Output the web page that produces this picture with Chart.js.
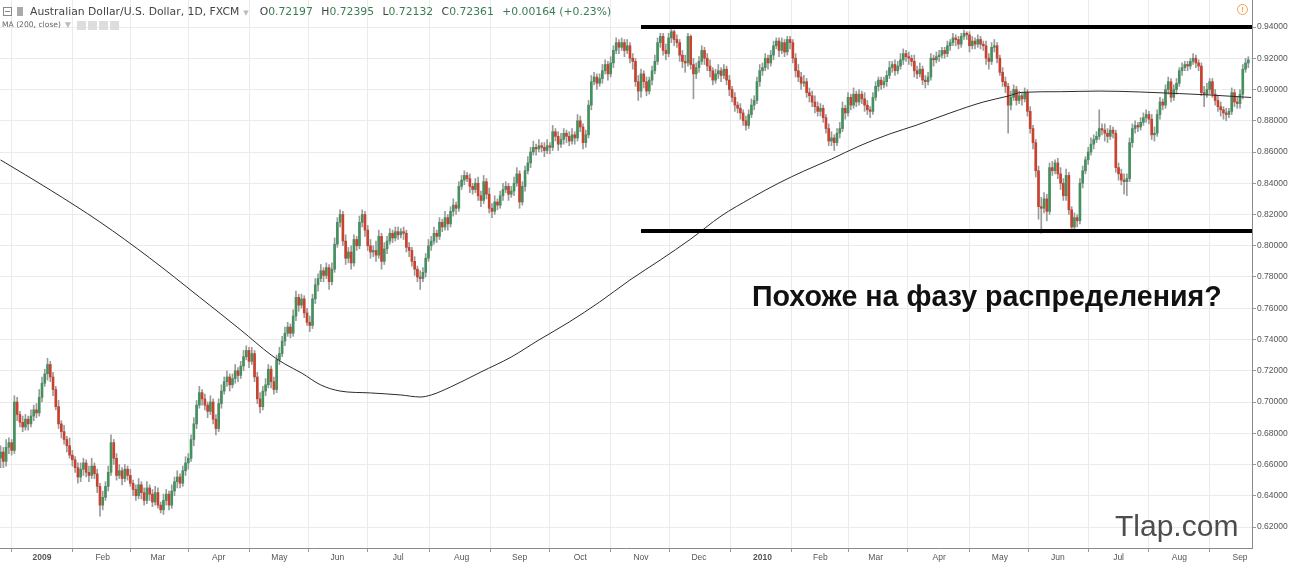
<!DOCTYPE html>
<html>
<head>
<meta charset="utf-8">
<title>AUD/USD 1D</title>
<script src="https://cdn.jsdelivr.net/npm/chart.js@4.4.1/dist/chart.umd.min.js"></script>
<style>
  html, body { margin: 0; padding: 0; background: #fff; }
  #wrap { position: relative; width: 1290px; height: 566px; overflow: hidden; font-family: "Liberation Sans", Arial, sans-serif; }
  #chart { position: absolute; left: 0; top: 0; }
  .hdr { position: absolute; left: 30px; top: 5px; font: 10.8px "DejaVu Sans", Verdana, sans-serif; color: #444; white-space: nowrap; }
  .hdr .caret { color: #bbb; font-size: 7px; margin: 0 11px 0 4px; }
  .hdr .ohlc b { font-weight: normal; color: #3a7d52; margin-right: 5px; }
  .sub { position: absolute; left: 2px; top: 20px; font: 7.6px "DejaVu Sans", Verdana, sans-serif; color: #666; white-space: nowrap; }
  .sub .caret { color: #bbb; margin-left: 4px; }
  .box { position: absolute; top: 21px; width: 9px; height: 9px; background: #ddd; }
  .ico-min { position: absolute; left: 3px; top: 7px; width: 7px; height: 7px; border: 1px solid #888; }
  .ico-min:after { content: ""; position: absolute; left: 1px; top: 3px; width: 5px; height: 1px; background: #888; }
  .ico-flag { position: absolute; left: 17px; top: 7px; width: 6px; height: 9px; background: #aaa; }
  .warn { position: absolute; left: 1237px; top: 4px; width: 9px; height: 9px; border: 1.5px solid #f5a04a; border-radius: 50%;
          color: #f5a04a; font: bold 8px "Liberation Sans", Arial, sans-serif; text-align: center; line-height: 9px; }
  .note { position: absolute; left: 752px; top: 280px; font: bold 28.6px "Liberation Sans", Arial, sans-serif; color: #111; white-space: nowrap; }
  .mark { position: absolute; left: 1115px; top: 509px; font: 30px "Liberation Sans", Arial, sans-serif; color: #4d4d4d; white-space: nowrap; }
</style>
</head>
<body>
<div id="wrap">
  <canvas id="chart" width="1290" height="566"></canvas>
  <div class="ico-min"></div><div class="ico-flag"></div>
  <div class="hdr">Australian Dollar/U.S. Dollar, 1D, FXCM<span class="caret">▼</span><span class="ohlc">O<b>0.72197</b> H<b>0.72395</b> L<b>0.72132</b> C<b>0.72361</b> <b>+0.00164 (+0.23%)</b></span></div>
  <div class="sub">MA (200, close)<span class="caret">▼</span></div>
  <div class="box" style="left:77px"></div><div class="box" style="left:88px"></div>
  <div class="box" style="left:99px"></div><div class="box" style="left:110px"></div>
  <div class="warn">!</div>
  <div class="note">Похоже на фазу распределения?</div>
  <div class="mark">Tlap.com</div>
</div>
<script>
// Daily candles, index = trading day counted from 2 Jan 2009 (first candle is mid Dec 2008)
const firstDay = -15;

const opens = [
  0.664,0.668,0.662,0.671,0.674,0.669,0.700,0.692,0.687,0.684,0.689,0.686,0.691,0.695,0.693, // Dec 08
  0.703,0.712,0.718,0.724,0.716,0.708,0.697,0.686,0.681,0.676,0.672,0.666,0.663,0.658,0.652,0.657,0.661,0.655,0.653,0.659,0.654,0.646, // Jan 09
  0.634,0.639,0.646,0.655,0.674,0.664,0.653,0.656,0.651,0.657,0.653,0.648,0.644,0.640,0.647,0.642,0.637,0.645,0.641,0.636, // Feb
  0.642,0.634,0.631,0.637,0.641,0.634,0.643,0.649,0.652,0.648,0.656,0.661,0.664,0.676,0.686,0.698,0.706,0.702,0.698,0.694,0.700,0.689, // Mar
  0.683,0.699,0.707,0.713,0.716,0.711,0.715,0.720,0.717,0.723,0.729,0.733,0.726,0.731,0.716,0.702,0.697,0.707,0.711,0.721,0.713,0.708, // Apr
  0.727,0.731,0.739,0.744,0.748,0.744,0.755,0.767,0.762,0.766,0.757,0.751,0.749,0.766,0.775,0.779,0.784,0.781,0.786,0.777,0.785, // May
  0.801,0.815,0.820,0.803,0.792,0.796,0.789,0.804,0.800,0.815,0.820,0.810,0.800,0.796,0.797,0.794,0.806,0.790,0.798,0.803,0.808,0.805, // Jun
  0.809,0.807,0.809,0.808,0.799,0.797,0.790,0.785,0.780,0.779,0.783,0.792,0.800,0.803,0.808,0.806,0.815,0.812,0.818,0.814,0.822,0.826,0.824, // Jul
  0.838,0.842,0.845,0.843,0.838,0.836,0.840,0.832,0.829,0.841,0.833,0.824,0.822,0.828,0.826,0.832,0.836,0.838,0.833,0.835,0.840, // Aug
  0.846,0.828,0.838,0.848,0.853,0.860,0.863,0.862,0.864,0.863,0.861,0.864,0.863,0.873,0.870,0.865,0.868,0.872,0.870,0.867,0.871,0.869, // Sep
  0.880,0.876,0.866,0.871,0.890,0.905,0.908,0.904,0.907,0.912,0.916,0.910,0.917,0.925,0.930,0.927,0.930,0.925,0.928,0.920,0.918,0.905, // Oct
  0.899,0.910,0.905,0.899,0.906,0.912,0.918,0.930,0.934,0.925,0.923,0.933,0.937,0.932,0.930,0.922,0.918,0.917,0.934,0.916,0.910, // Nov
  0.914,0.918,0.925,0.920,0.915,0.912,0.906,0.910,0.912,0.909,0.913,0.906,0.900,0.895,0.890,0.888,0.885,0.880,0.877,0.884,0.890,0.893,0.905, // Dec
  0.912,0.914,0.920,0.917,0.922,0.928,0.931,0.925,0.930,0.924,0.932,0.930,0.920,0.912,0.908,0.904,0.905,0.898,0.896,0.892,0.889, // Jan 10
  0.886,0.888,0.882,0.875,0.867,0.869,0.866,0.872,0.875,0.888,0.885,0.895,0.890,0.897,0.892,0.897,0.894,0.890,0.887,0.886, // Feb
  0.895,0.902,0.906,0.903,0.905,0.909,0.914,0.916,0.912,0.915,0.919,0.923,0.921,0.920,0.918,0.912,0.910,0.913,0.906,0.905,0.908,0.920,0.919, // Mar
  0.921,0.922,0.925,0.923,0.928,0.930,0.933,0.932,0.929,0.934,0.936,0.935,0.928,0.931,0.929,0.932,0.929,0.928,0.920,0.918,0.927,0.928, // Apr
  0.920,0.911,0.905,0.902,0.890,0.895,0.900,0.893,0.896,0.894,0.898,0.886,0.875,0.866,0.848,0.825,0.824,0.830,0.822,0.850,0.848, // May
  0.853,0.846,0.840,0.832,0.845,0.823,0.812,0.818,0.816,0.840,0.848,0.855,0.860,0.865,0.868,0.870,0.875,0.874,0.872,0.870,0.874,0.872, // Jun
  0.850,0.846,0.842,0.841,0.843,0.866,0.875,0.877,0.876,0.879,0.882,0.884,0.881,0.871,0.872,0.884,0.892,0.890,0.900,0.905,0.895,0.900, // Jul
  0.904,0.912,0.914,0.916,0.915,0.918,0.920,0.917,0.915,0.898,0.897,0.900,0.905,0.897,0.893,0.889,0.887,0.885,0.884,0.886,0.898,0.892, // Aug
  0.891,0.897,0.913,0.917 // Sep
];
const highs = [
  0.672,0.671,0.676,0.677,0.676,0.704,0.703,0.694,0.691,0.692,0.691,0.695,0.698,0.699,0.708,
  0.716,0.721,0.728,0.726,0.719,0.710,0.701,0.688,0.685,0.678,0.677,0.669,0.665,0.661,0.661,0.664,0.663,0.659,0.664,0.661,0.657,0.648,
  0.643,0.649,0.659,0.679,0.676,0.667,0.660,0.658,0.660,0.659,0.657,0.650,0.647,0.651,0.649,0.645,0.649,0.647,0.644,0.646,
  0.645,0.636,0.641,0.644,0.643,0.647,0.652,0.656,0.654,0.659,0.665,0.667,0.679,0.690,0.701,0.710,0.708,0.705,0.700,0.704,0.702,0.692,
  0.702,0.711,0.716,0.720,0.718,0.718,0.724,0.722,0.726,0.733,0.736,0.735,0.735,0.733,0.719,0.706,0.710,0.715,0.724,0.723,0.716,0.730,
  0.735,0.742,0.748,0.751,0.750,0.759,0.771,0.769,0.769,0.768,0.760,0.755,0.769,0.779,0.782,0.788,0.786,0.789,0.788,0.789,0.805,
  0.818,0.823,0.822,0.807,0.799,0.800,0.807,0.806,0.819,0.823,0.822,0.813,0.804,0.800,0.803,0.810,0.808,0.802,0.806,0.811,0.810,0.812,
  0.812,0.811,0.812,0.810,0.802,0.799,0.793,0.787,0.784,0.786,0.795,0.804,0.806,0.812,0.810,0.818,0.817,0.822,0.820,0.825,0.830,0.828,0.841,
  0.845,0.848,0.847,0.846,0.840,0.843,0.844,0.835,0.845,0.843,0.837,0.827,0.832,0.830,0.835,0.840,0.841,0.840,0.838,0.844,0.850,
  0.848,0.841,0.851,0.857,0.863,0.867,0.865,0.868,0.866,0.866,0.868,0.866,0.877,0.875,0.873,0.872,0.875,0.874,0.873,0.875,0.873,0.884,
  0.883,0.878,0.874,0.893,0.909,0.911,0.910,0.910,0.916,0.919,0.918,0.921,0.928,0.933,0.932,0.933,0.932,0.932,0.930,0.923,0.920,0.909,
  0.913,0.912,0.908,0.908,0.915,0.922,0.933,0.936,0.936,0.929,0.936,0.939,0.938,0.935,0.932,0.925,0.922,0.936,0.935,0.920,0.917,
  0.921,0.928,0.927,0.923,0.919,0.914,0.913,0.916,0.914,0.916,0.915,0.909,0.902,0.898,0.892,0.891,0.887,0.883,0.887,0.894,0.896,0.908,0.916,
  0.917,0.923,0.922,0.925,0.931,0.933,0.933,0.933,0.932,0.934,0.934,0.932,0.923,0.916,0.911,0.909,0.907,0.901,0.899,0.896,0.892,
  0.891,0.890,0.884,0.878,0.873,0.871,0.875,0.879,0.892,0.890,0.898,0.897,0.901,0.899,0.900,0.899,0.898,0.893,0.889,0.898,
  0.905,0.908,0.908,0.908,0.912,0.918,0.918,0.919,0.918,0.923,0.926,0.925,0.924,0.922,0.922,0.915,0.917,0.915,0.909,0.911,0.923,0.922,0.924,
  0.925,0.927,0.927,0.931,0.932,0.936,0.935,0.934,0.936,0.938,0.937,0.937,0.934,0.933,0.935,0.934,0.931,0.931,0.923,0.930,0.932,0.930,
  0.922,0.914,0.908,0.904,0.899,0.903,0.902,0.899,0.898,0.901,0.900,0.889,0.877,0.868,0.851,0.831,0.834,0.833,0.853,0.854,0.855,
  0.856,0.850,0.843,0.849,0.847,0.825,0.821,0.820,0.843,0.851,0.857,0.863,0.869,0.871,0.873,0.887,0.878,0.878,0.875,0.877,0.876,0.874,
  0.853,0.849,0.846,0.846,0.869,0.878,0.880,0.879,0.882,0.885,0.887,0.886,0.884,0.876,0.887,0.895,0.894,0.903,0.908,0.907,0.903,0.907,
  0.914,0.917,0.918,0.918,0.920,0.923,0.922,0.919,0.917,0.902,0.904,0.907,0.907,0.900,0.896,0.892,0.889,0.888,0.888,0.901,0.900,0.895,
  0.900,0.916,0.920,0.921
];
const lows = [
  0.658,0.658,0.659,0.667,0.666,0.667,0.688,0.684,0.681,0.682,0.682,0.684,0.688,0.690,0.691,
  0.700,0.710,0.714,0.713,0.704,0.695,0.683,0.677,0.673,0.668,0.664,0.659,0.655,0.648,0.649,0.653,0.652,0.649,0.651,0.651,0.642,0.627,
  0.631,0.637,0.643,0.653,0.660,0.650,0.651,0.647,0.649,0.650,0.646,0.640,0.637,0.638,0.638,0.634,0.635,0.637,0.633,0.634,
  0.632,0.629,0.628,0.634,0.631,0.632,0.640,0.645,0.645,0.646,0.653,0.657,0.662,0.672,0.683,0.696,0.698,0.695,0.690,0.692,0.686,0.679,
  0.681,0.696,0.705,0.710,0.707,0.709,0.712,0.713,0.715,0.720,0.727,0.722,0.724,0.713,0.699,0.693,0.695,0.704,0.709,0.709,0.705,0.706,
  0.724,0.729,0.736,0.742,0.741,0.742,0.752,0.758,0.760,0.754,0.749,0.745,0.747,0.763,0.771,0.777,0.777,0.779,0.772,0.775,0.783,
  0.799,0.812,0.800,0.788,0.789,0.785,0.787,0.797,0.798,0.812,0.806,0.797,0.792,0.793,0.790,0.792,0.785,0.788,0.795,0.801,0.802,0.803,
  0.804,0.805,0.804,0.796,0.793,0.787,0.781,0.777,0.772,0.777,0.780,0.790,0.797,0.801,0.802,0.804,0.809,0.810,0.810,0.812,0.819,0.820,0.822,
  0.836,0.839,0.841,0.834,0.833,0.834,0.829,0.825,0.827,0.830,0.821,0.818,0.820,0.823,0.824,0.829,0.834,0.829,0.831,0.832,0.838,
  0.824,0.826,0.835,0.846,0.850,0.858,0.858,0.860,0.860,0.857,0.859,0.859,0.861,0.867,0.861,0.863,0.865,0.866,0.864,0.865,0.865,0.867,
  0.873,0.862,0.863,0.869,0.887,0.903,0.900,0.902,0.904,0.910,0.906,0.908,0.914,0.923,0.923,0.925,0.921,0.923,0.917,0.913,0.902,0.893,
  0.895,0.901,0.896,0.897,0.903,0.910,0.916,0.927,0.922,0.919,0.921,0.930,0.928,0.927,0.918,0.914,0.911,0.915,0.913,0.894,0.907,
  0.911,0.916,0.916,0.912,0.908,0.903,0.904,0.907,0.905,0.907,0.903,0.896,0.892,0.886,0.885,0.881,0.877,0.874,0.875,0.882,0.887,0.891,0.902,
  0.909,0.912,0.913,0.915,0.919,0.926,0.921,0.923,0.921,0.922,0.926,0.917,0.908,0.905,0.900,0.902,0.895,0.892,0.889,0.885,0.883,
  0.883,0.879,0.872,0.864,0.864,0.861,0.864,0.869,0.873,0.881,0.883,0.887,0.888,0.889,0.890,0.891,0.886,0.884,0.882,0.884,
  0.893,0.899,0.900,0.901,0.902,0.907,0.911,0.909,0.910,0.913,0.916,0.918,0.916,0.915,0.908,0.907,0.908,0.903,0.901,0.903,0.906,0.915,0.917,
  0.918,0.920,0.920,0.921,0.925,0.928,0.928,0.926,0.927,0.932,0.932,0.924,0.926,0.926,0.927,0.926,0.925,0.916,0.913,0.916,0.924,0.917,
  0.909,0.902,0.898,0.872,0.887,0.893,0.890,0.891,0.890,0.892,0.883,0.872,0.862,0.844,0.817,0.808,0.821,0.816,0.820,0.845,0.846,
  0.843,0.836,0.829,0.829,0.820,0.809,0.810,0.812,0.814,0.837,0.846,0.852,0.858,0.862,0.866,0.868,0.871,0.867,0.866,0.868,0.869,0.847,
  0.842,0.839,0.833,0.832,0.841,0.863,0.872,0.873,0.874,0.877,0.879,0.878,0.868,0.867,0.870,0.881,0.887,0.888,0.897,0.892,0.893,0.897,
  0.902,0.909,0.912,0.912,0.913,0.916,0.914,0.912,0.896,0.889,0.895,0.897,0.895,0.890,0.886,0.883,0.881,0.880,0.882,0.884,0.889,0.888,
  0.888,0.894,0.911,0.914
];
const closes = [
  0.668,0.662,0.671,0.674,0.669,0.700,0.692,0.687,0.684,0.689,0.686,0.691,0.695,0.693,0.703,
  0.712,0.718,0.724,0.716,0.708,0.697,0.686,0.681,0.676,0.672,0.666,0.663,0.658,0.652,0.657,0.661,0.655,0.653,0.659,0.654,0.646,0.634,
  0.639,0.646,0.655,0.674,0.664,0.653,0.656,0.651,0.657,0.653,0.648,0.644,0.640,0.647,0.642,0.637,0.645,0.641,0.636,0.642,
  0.634,0.631,0.637,0.641,0.634,0.643,0.649,0.652,0.648,0.656,0.661,0.664,0.676,0.686,0.698,0.706,0.702,0.698,0.694,0.700,0.689,0.683,
  0.699,0.707,0.713,0.716,0.711,0.715,0.720,0.717,0.723,0.729,0.733,0.726,0.731,0.716,0.702,0.697,0.707,0.711,0.721,0.713,0.708,0.727,
  0.731,0.739,0.744,0.748,0.744,0.755,0.767,0.762,0.766,0.757,0.751,0.749,0.766,0.775,0.779,0.784,0.781,0.786,0.777,0.785,0.801,
  0.815,0.820,0.803,0.792,0.796,0.789,0.804,0.800,0.815,0.820,0.810,0.800,0.796,0.797,0.794,0.806,0.790,0.798,0.803,0.808,0.805,0.809,
  0.807,0.809,0.808,0.799,0.797,0.790,0.785,0.780,0.779,0.783,0.792,0.800,0.803,0.808,0.806,0.815,0.812,0.818,0.814,0.822,0.826,0.824,0.838,
  0.842,0.845,0.843,0.838,0.836,0.840,0.832,0.829,0.841,0.833,0.824,0.822,0.828,0.826,0.832,0.836,0.838,0.833,0.835,0.840,0.846,
  0.828,0.838,0.848,0.853,0.860,0.863,0.862,0.864,0.863,0.861,0.864,0.863,0.873,0.870,0.865,0.868,0.872,0.870,0.867,0.871,0.869,0.880,
  0.876,0.866,0.871,0.890,0.905,0.908,0.904,0.907,0.912,0.916,0.910,0.917,0.925,0.930,0.927,0.930,0.925,0.928,0.920,0.918,0.905,0.899,
  0.910,0.905,0.899,0.906,0.912,0.918,0.930,0.934,0.925,0.923,0.933,0.937,0.932,0.930,0.922,0.918,0.917,0.934,0.916,0.910,0.914,
  0.918,0.925,0.920,0.915,0.912,0.906,0.910,0.912,0.909,0.913,0.906,0.900,0.895,0.890,0.888,0.885,0.880,0.877,0.884,0.890,0.893,0.905,0.912,
  0.914,0.920,0.917,0.922,0.928,0.931,0.925,0.930,0.924,0.932,0.930,0.920,0.912,0.908,0.904,0.905,0.898,0.896,0.892,0.889,0.886,
  0.888,0.882,0.875,0.867,0.869,0.866,0.872,0.875,0.888,0.885,0.895,0.890,0.897,0.892,0.897,0.894,0.890,0.887,0.886,0.895,
  0.902,0.906,0.903,0.905,0.909,0.914,0.916,0.912,0.915,0.919,0.923,0.921,0.920,0.918,0.912,0.910,0.913,0.906,0.905,0.908,0.920,0.919,0.921,
  0.922,0.925,0.923,0.928,0.930,0.933,0.932,0.929,0.934,0.936,0.935,0.928,0.931,0.929,0.932,0.929,0.928,0.920,0.918,0.927,0.928,0.920,
  0.911,0.905,0.902,0.890,0.895,0.900,0.893,0.896,0.894,0.898,0.886,0.875,0.866,0.848,0.825,0.824,0.830,0.822,0.850,0.848,0.853,
  0.846,0.840,0.832,0.845,0.823,0.812,0.818,0.816,0.840,0.848,0.855,0.860,0.865,0.868,0.870,0.875,0.874,0.872,0.870,0.874,0.872,0.850,
  0.846,0.842,0.841,0.843,0.866,0.875,0.877,0.876,0.879,0.882,0.884,0.881,0.871,0.872,0.884,0.892,0.890,0.900,0.905,0.895,0.900,0.904,
  0.912,0.914,0.916,0.915,0.918,0.920,0.917,0.915,0.898,0.897,0.900,0.905,0.897,0.893,0.889,0.887,0.885,0.884,0.886,0.898,0.892,0.891,
  0.897,0.913,0.917,0.919
];

// MA(200, close)
const maDays = [-15, 3, 21, 39, 57, 72, 83, 88, 94, 101, 108, 119, 130, 137, 141, 148, 159, 170, 180, 191,
  202, 213, 224, 235, 246, 257, 267, 276, 286, 296, 307, 317, 329, 341, 350, 355, 369, 383, 398, 412, 423, 438];
const maValues = [0.8549, 0.8357, 0.8152, 0.7922, 0.7672, 0.7461, 0.7301, 0.7243, 0.7186, 0.7109, 0.7070, 0.7058, 0.7045, 0.7032, 0.7045, 0.7096, 0.7192, 0.7288, 0.7397, 0.7512,
  0.7640, 0.7781, 0.7909, 0.8043, 0.8190, 0.8306, 0.8402, 0.8478, 0.8555, 0.8638, 0.8715, 0.8773, 0.8850, 0.8920, 0.8958, 0.8982, 0.8986, 0.8990, 0.8984, 0.8974, 0.8965, 0.8949];

// drawn levels
const resistance = 0.94;
const support = 0.8095;
const levelFrom = 217;

// axes
const monthStarts = [0, 22, 42, 64, 86, 107, 129, 152, 173, 195, 217, 238, 261, 282, 302, 325, 347, 368, 390, 412, 434];
const monthLabels = ['2009', 'Feb', 'Mar', 'Apr', 'May', 'Jun', 'Jul', 'Aug', 'Sep', 'Oct', 'Nov', 'Dec',
  '2010', 'Feb', 'Mar', 'Apr', 'May', 'Jun', 'Jul', 'Aug', 'Sep'];
const priceTicks = [0.62, 0.64, 0.66, 0.68, 0.70, 0.72, 0.74, 0.76, 0.78, 0.80, 0.82, 0.84, 0.86, 0.88, 0.90, 0.92, 0.94];

const xMin = -15.215, xMax = 438.34;
const yMin = 0.60656, yMax = 0.95728;

if (opens.length !== closes.length || highs.length !== closes.length || lows.length !== closes.length) {
    console.error('candle arrays differ', opens.length, highs.length, lows.length, closes.length);
}

const upColor = '#45905f';
const downColor = '#c9412f';

const days = closes.map((c, i) => firstDay + i);
const bodies = days.map((d, i) => ({ x: d, y: [opens[i], closes[i]] }));
const wicks = days.map((d, i) => ({ x: d, y: [lows[i], highs[i]] }));
const ma = maDays.map((d, i) => ({ x: d, y: maValues[i] }));

const ctx = document.getElementById('chart').getContext('2d');
const chart = new Chart(ctx, {
    type: 'bar',
    data: {
        datasets: [
            {
                type: 'line', data: [{ x: levelFrom, y: resistance }, { x: xMax, y: resistance }],
                borderColor: '#000', borderWidth: 4, pointRadius: 0, order: 0
            },
            {
                type: 'line', data: [{ x: levelFrom, y: support }, { x: xMax, y: support }],
                borderColor: '#000', borderWidth: 4, pointRadius: 0, order: 0
            },
            {
                type: 'line', data: ma, borderColor: '#2b2b2b', borderWidth: 1,
                pointRadius: 0, cubicInterpolationMode: 'monotone', order: 1
            },
            {
                data: bodies, grouped: false, barThickness: 2, minBarLength: 1,
                backgroundColor: c => closes[c.dataIndex] >= opens[c.dataIndex] ? upColor : downColor,
                order: 2
            },
            {
                data: wicks, grouped: false, barThickness: 1,
                backgroundColor: '#9a9a9a', order: 3
            }
        ]
    },
    options: {
        responsive: false,
        animation: false,
        layout: { padding: 0 },
        plugins: { legend: { display: false }, tooltip: { enabled: false } },
        scales: {
            x: {
                type: 'linear', min: xMin, max: xMax, offset: false,
                afterBuildTicks: s => { s.ticks = monthStarts.map(v => ({ value: v })); },
                afterFit: s => { s.height = 18; s.paddingLeft = 0; s.paddingRight = 0; },
                ticks: {
                    autoSkip: false, maxRotation: 0, padding: 1, color: '#555',
                    font: c => ({ family: '"Liberation Sans", Arial, sans-serif', size: 8.5, weight: /^\d/.test(monthLabels[c.index]) ? 'bold' : 'normal' }),
                    callback: (v, i) => monthLabels[i]
                },
                grid: { color: '#ebebeb', tickLength: 4, tickColor: '#999' },
                border: { color: '#8a8a8a' }
            },
            y: {
                position: 'right', min: yMin, max: yMax,
                afterBuildTicks: s => { s.ticks = priceTicks.map(v => ({ value: v })); },
                afterFit: s => { s.width = 38; s.paddingTop = 0; s.paddingBottom = 0; },
                ticks: {
                    padding: 1, color: '#555',
                    font: { family: '"Liberation Sans", Arial, sans-serif', size: 8.5 },
                    callback: v => v.toFixed(5)
                },
                grid: { color: '#ebebeb', tickLength: 4, tickColor: '#999' },
                border: { color: '#8a8a8a' }
            }
        }
    }
});
</script>
</body>
</html>
